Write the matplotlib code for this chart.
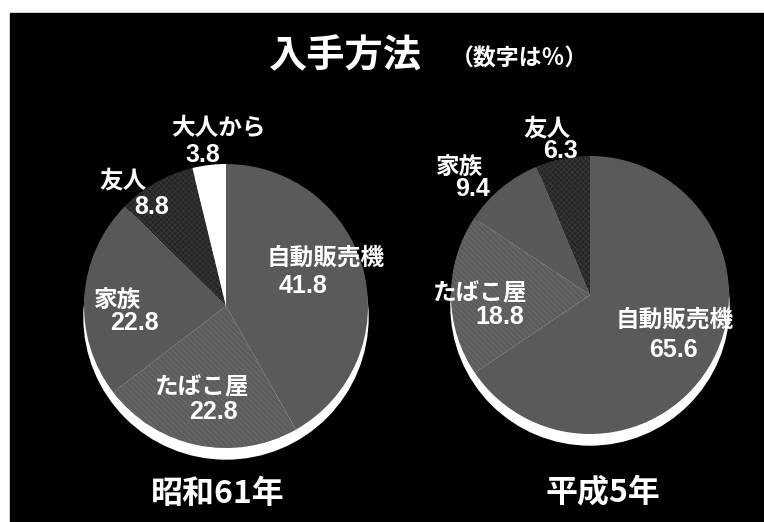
import matplotlib
matplotlib.use("Agg")
import matplotlib.pyplot as plt
from matplotlib.patches import Rectangle, Circle

plt.rcParams['font.family'] = ['Noto Sans CJK JP', 'DejaVu Sans']
plt.rcParams['hatch.linewidth'] = 0.6

# 入手方法の内訳 (%)
labels_s61 = ["自動販売機", "たばこ屋", "家族", "友人", "大人から"]
values_s61 = [41.8, 22.8, 22.8, 8.8, 3.8]
labels_h5 = ["自動販売機", "たばこ屋", "家族", "友人"]
values_h5 = [65.6, 18.8, 9.4, 6.3]
years = ["昭和61年", "平成5年"]

colors = {"自動販売機": "#5a5a5a", "たばこ屋": "#5c5c5c", "家族": "#585858",
          "友人": "#252525", "大人から": "#ffffff"}
hatches = {"たばこ屋": ("\\\\\\\\\\\\", "#6e6e6e"), "友人": ("xxxxxx", "#383838")}

W, H = 764, 522
fig = plt.figure(figsize=(W / 100, H / 100), dpi=100, facecolor="white")
ax = fig.add_axes([0, 0, 1, 1])

ax.add_patch(Rectangle((10, 0), W - 10, H - 13, color="black", zorder=0))


def Y(y):
    # 画像上の y 座標 (上から) を軸座標に変換
    return H - y


def draw_pie(cx, cy, r, labels, values):
    ax.add_patch(Circle((cx, Y(cy) - 11), r, color="white", zorder=1))
    wedges, _ = ax.pie(values, center=(cx, Y(cy)), radius=r, startangle=90,
                       counterclock=False, colors=[colors[l] for l in labels],
                       wedgeprops=dict(linewidth=0), normalize=True)
    for w, l in zip(wedges, labels):
        w.set_zorder(2)
        if l in hatches:
            h, hc = hatches[l]
            w.set_hatch(h)
            w.set_edgecolor(hc)
            w.set_linewidth(0)


draw_pie(226, 306, 142, labels_s61, values_s61)
draw_pie(590, 295, 139, labels_h5, values_h5)

# pie() が範囲を書き換えるので後で設定する
ax.set_xlim(0, W)
ax.set_ylim(0, H)
ax.set_aspect("equal")
ax.axis("off")

txt = dict(color="white", fontweight="bold", ha="center", va="center", zorder=5)
num_font = ["Liberation Sans", "DejaVu Sans"]

ax.text(345, Y(56), "入手方法", fontsize=27.5, **txt)
ax.text(519, Y(59), "（数字は％）", fontsize=16.5, **txt)

# ラベル位置 (名前の中心, 数値の中心)
pos_s61 = [((326, 258), (303, 286)), ((202, 387), (213, 412)),
           ((118, 300), (134, 323)), ((123, 180), (152, 207)),
           ((218, 128), (203, 155))]
pos_h5 = [((675, 320), (673, 350)), ((480, 293), (500, 317)),
          ((460, 167), (473, 189)), ((547, 128), (560, 151))]

for lbls, vals, pos in [(labels_s61, values_s61, pos_s61),
                        (labels_h5, values_h5, pos_h5)]:
    for l, v, ((lx, ly), (vx, vy)) in zip(lbls, vals, pos):
        ax.text(lx, Y(ly), l, fontsize=17, **txt)
        ax.text(vx, Y(vy), f"{v:.1f}", fontsize=18, family=num_font, **txt)

ax.text(218, Y(494), years[0], fontsize=23, **txt)
ax.text(603, Y(492), years[1], fontsize=23, **txt)

fig.savefig("out.png", dpi=100, facecolor="white")
